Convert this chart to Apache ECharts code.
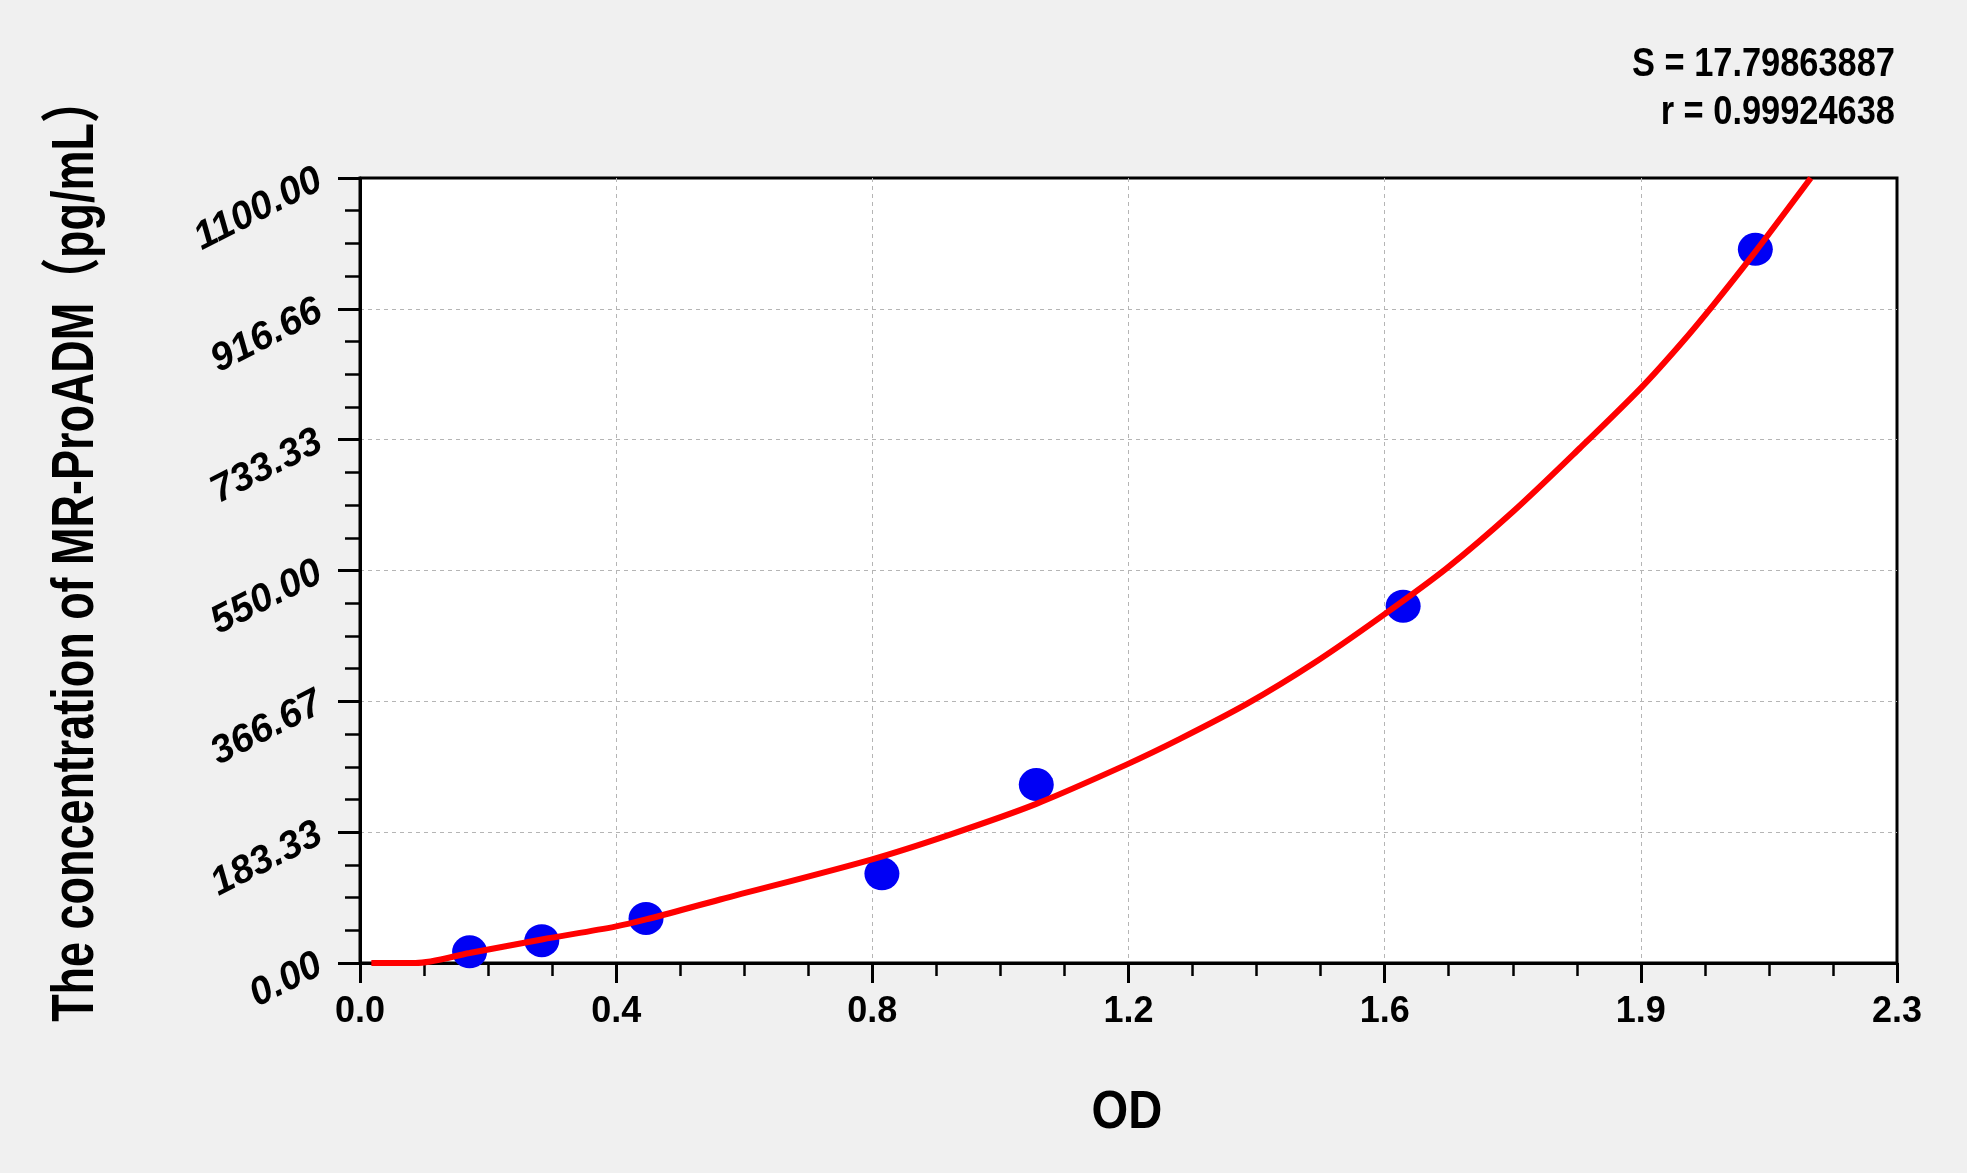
<!DOCTYPE html>
<html>
<head>
<meta charset="utf-8">
<script src="https://cdn.jsdelivr.net/npm/echarts@6/dist/echarts.min.js"></script>
<style>
html,body{margin:0;padding:0;background:#f0f0f0;}
#chart{width:1967px;height:1173px;}
</style>
</head>
<body>
<div id="chart"></div>
<script>
// Standard points (OD vs concentration)
const odValues   = [0.164, 0.272, 0.428, 0.781, 1.012, 1.561, 2.088];
const concValues = [15.63, 31.25, 62.5, 125, 250, 500, 1000];

// Fitted curve samples
const curveOD   = [0.017, 0.083, 0.164, 0.272, 0.382, 0.428, 0.539, 0.765, 0.883, 1.012, 1.147, 1.227, 1.327, 1.427, 1.526, 1.626, 1.726, 1.826, 1.917, 1.975, 2.025, 2.085, 2.171];
const curveConc = [0,     0,     14,    33,    51,    61,    89,    145,   180,   223,   278,   314,   363,   420,   484,   553,   633,   722,   806,   866,   922,   993,   1100];

// Tick labels
const xTickLabels = ['0.0', '0.4', '0.8', '1.2', '1.6', '1.9', '2.3'];
const yTickLabels = ['0.00', '183.33', '366.67', '550.00', '733.33', '916.66', '1100.00'];

// Fit statistics
const statLines = ['S = 17.79863887', 'r = 0.99924638'];

const xTitle = 'OD';
const yTitle = 'The concentration of MR-ProADM\uFF08pg/mL\uFF09';

const xMax = 2.3, yMax = 1100;
const xInterval = xMax / 6, yInterval = yMax / 6;
const FONT = '"Liberation Sans", Arial, "Noto Sans CJK SC", sans-serif';

const chart = echarts.init(document.getElementById('chart'), null, {renderer: 'canvas'});

const pointData = odValues.map((x, i) => [x, concValues[i]]);
const curveData = curveOD.map((x, i) => [x, curveConc[i]]);

const option = {
  backgroundColor: '#f0f0f0',
  animation: false,
  textStyle: {fontFamily: FONT},
  grid: {
    left: 360, right: 70, top: 178, bottom: 210,
    show: true, backgroundColor: '#ffffff', borderColor: '#000000', borderWidth: 3
  },
  xAxis: {
    type: 'value', min: 0, max: xMax, interval: xInterval,
    axisLine: {onZero: false, lineStyle: {color: '#000', width: 3}},
    axisTick: {show: true, length: 20, lineStyle: {color: '#000', width: 3}},
    minorTick: {show: true, splitNumber: 4, length: 13, lineStyle: {color: '#000', width: 2.5}},
    splitLine: {show: true, showMinLine: false, showMaxLine: false,
                lineStyle: {type: [4, 4], color: '#b5b5b5', width: 1}},
    axisLabel: {
      margin: 31, fontSize: 36, fontWeight: 'bold', color: '#000', fontFamily: FONT,
      formatter: v => xTickLabels[Math.round(v / xInterval)]
    }
  },
  yAxis: {
    type: 'value', min: 0, max: yMax, interval: yInterval,
    axisLine: {onZero: false, lineStyle: {color: '#000', width: 3}},
    axisTick: {show: true, length: 22, lineStyle: {color: '#000', width: 3}},
    minorTick: {show: true, splitNumber: 4, length: 15, lineStyle: {color: '#000', width: 2.5}},
    splitLine: {show: true, showMinLine: false, showMaxLine: false,
                lineStyle: {type: [4, 4], color: '#b5b5b5', width: 1}},
    axisLabel: {
      margin: 40, rotate: 27, fontSize: 39, fontWeight: 'bold', fontStyle: 'italic',
      color: '#000', fontFamily: FONT,
      formatter: v => yTickLabels[Math.round(v / yInterval)]
    }
  },
  graphic: [
    {type: 'text', x: 1895, y: 65, scaleX: 0.86, z: 10,
     style: {text: statLines[0], font: 'bold 40px ' + FONT, fill: '#000',
             textAlign: 'right', textVerticalAlign: 'middle'}},
    {type: 'text', x: 1895, y: 113, scaleX: 0.86, z: 10,
     style: {text: statLines[1], font: 'bold 40px ' + FONT, fill: '#000',
             textAlign: 'right', textVerticalAlign: 'middle'}},
    {type: 'text', x: 1127, y: 1113, scaleX: 0.89, z: 10,
     style: {text: xTitle, font: 'bold 53px ' + FONT, fill: '#000',
             textAlign: 'center', textVerticalAlign: 'middle'}},
    {type: 'text', x: 76, y: 550, rotation: Math.PI / 2, scaleX: 0.749, z: 10,
     style: {text: yTitle, font: 'bold 60px ' + FONT, fill: '#000',
             textAlign: 'center', textVerticalAlign: 'middle'}}
  ],
  series: [
    {
      type: 'scatter', data: pointData, symbol: 'circle', symbolSize: [35, 33],
      itemStyle: {color: '#0000f5', opacity: 1}, z: 2
    },
    {
      type: 'line', data: curveData, showSymbol: false, smooth: 0.3,
      lineStyle: {color: '#ff0000', width: 6}, z: 3, clip: true
    }
  ]
};
chart.setOption(option);
</script>
</body>
</html>
